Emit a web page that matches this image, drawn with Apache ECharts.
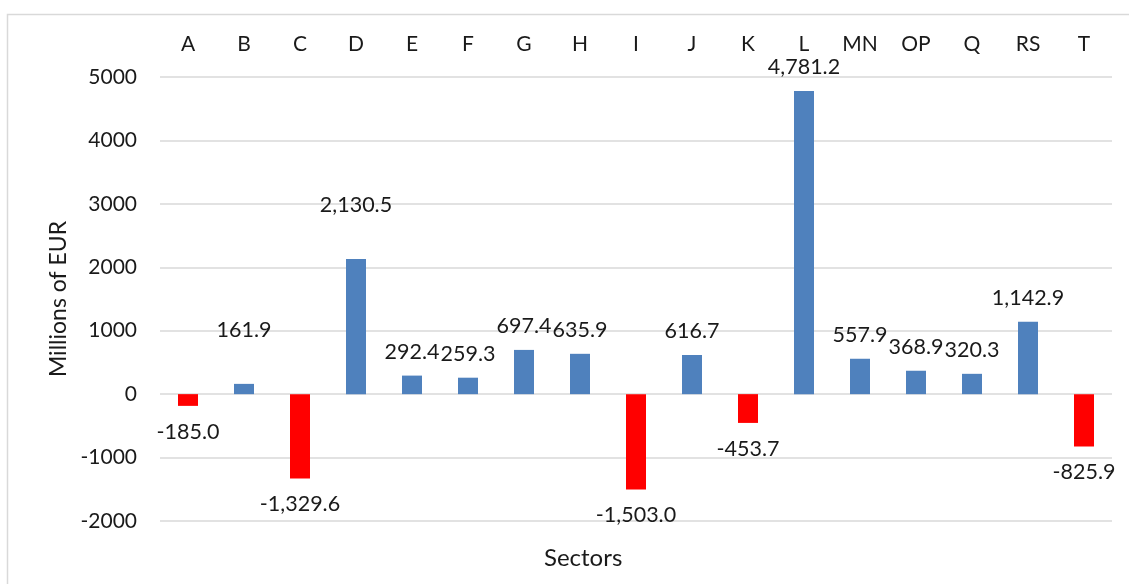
<!DOCTYPE html>
<html>
<head>
<meta charset="utf-8">
<script src="https://cdn.jsdelivr.net/npm/echarts@6/dist/echarts.min.js"></script>
<style>
html,body{margin:0;padding:0;background:#fff;}
#chart{width:1129px;height:584px;}
</style>
</head>
<body>
<div id="chart"></div>
<script>
const categories = ['A','B','C','D','E','F','G','H','I','J','K','L','MN','OP','Q','RS','T'];
const values = [-185.0, 161.9, -1329.6, 2130.5, 292.4, 259.3, 697.4, 635.9, -1503.0, 616.7, -453.7, 4781.2, 557.9, 368.9, 320.3, 1142.9, -825.9];
const yTicks = [-2000, -1000, 0, 1000, 2000, 3000, 4000, 5000];

const FONT = 'Lato';
const raised = ['B','D'];

const chart = echarts.init(document.getElementById('chart'), null, {renderer:'canvas'});
const fmt = v => v.toLocaleString('en-US',{minimumFractionDigits:1,maximumFractionDigits:1});

const data = values.map((v,i)=>{
  const neg = v < 0;
  return {
    value: v,
    itemStyle: {color: neg ? '#FF0000' : '#4F81BD'},
    label: {
      position: neg ? 'bottom' : 'top',
      distance: neg ? 15 : (raised.includes(categories[i]) ? 43 : 13)
    }
  };
});

chart.setOption({
  animation:false,
  textStyle:{fontFamily:FONT},
  title:{
    text:'Sectors', left:539, top:541,
    textStyle:{fontFamily:FONT, fontSize:24, fontWeight:'normal', color:'#1a1a1a'}
  },
  graphic:[{
    type:'rect', shape:{x:7.5,y:14.5,width:1140,height:600},
    style:{fill:'none', stroke:'#d9d9d9', lineWidth:1.5}, silent:true, z:-1
  }],
  grid:{left:160, right:17, top:77, bottom:63},
  xAxis:{
    type:'category', data:categories, position:'top',
    axisLine:{show:false}, axisTick:{show:false},
    axisLabel:{fontFamily:FONT, fontSize:21, color:'#1a1a1a', margin:22, interval:0}
  },
  yAxis:{
    type:'value', min:-2000, max:5000, interval:1000,
    name:'Millions of EUR', nameLocation:'middle', nameGap:86,
    nameTextStyle:{fontFamily:FONT, fontSize:23, color:'#1a1a1a'},
    axisLine:{show:false}, axisTick:{show:false},
    axisLabel:{fontFamily:FONT, fontSize:21, color:'#1a1a1a', margin:23,
      formatter: v => yTicks.includes(v) ? String(v) : ''},
    splitLine:{lineStyle:{color:'#d9d9d9', width:1.5}}
  },
  series:[{
    type:'bar', data:data, barWidth:20,
    label:{show:true, fontFamily:FONT, fontSize:21.5, color:'#1a1a1a',
      formatter: p => fmt(p.value)}
  }]
});
</script>
</body>
</html>
